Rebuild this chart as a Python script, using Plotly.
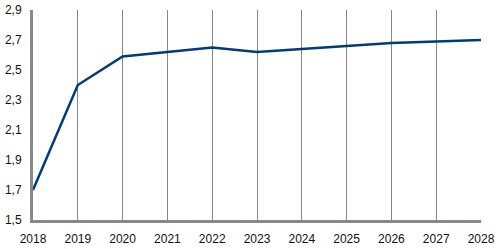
import plotly.graph_objects as go

years = [2018, 2019, 2020, 2021, 2022, 2023, 2024, 2025, 2026, 2027, 2028]
values = [1.70, 2.40, 2.59, 2.62, 2.65, 2.62, 2.64, 2.66, 2.68, 2.69, 2.70]
y_ticks = [1.5, 1.7, 1.9, 2.1, 2.3, 2.5, 2.7, 2.9]
y_labels = ["1,5", "1,7", "1,9", "2,1", "2,3", "2,5", "2,7", "2,9"]

fig = go.Figure()
fig.add_trace(go.Scatter(x=years, y=values, mode="lines",
                         line=dict(color="#003B7A", width=2.5),
                         hoverinfo="skip", cliponaxis=False))

fig.update_layout(
    width=500, height=249,
    margin=dict(l=33, r=19, t=10, b=29),
    paper_bgcolor="white", plot_bgcolor="white",
    showlegend=False,
    font=dict(family="Liberation Sans, Arial, sans-serif", size=12, color="#111111"),
)
fig.update_xaxes(
    range=[2018, 2028], tickvals=years, ticktext=[str(y) for y in years],
    showgrid=True, gridcolor="#888888", gridwidth=1,
    showline=True, linecolor="#888888", linewidth=3,
    ticks="", zeroline=False, ticklabelstandoff=6, automargin=False,
)
fig.update_yaxes(
    range=[1.5, 2.9], tickvals=y_ticks, ticktext=y_labels,
    showgrid=False, showline=True, linecolor="#888888", linewidth=3,
    ticks="", zeroline=False, ticklabelstandoff=6, automargin=False,
)

fig.write_html("out.html")
